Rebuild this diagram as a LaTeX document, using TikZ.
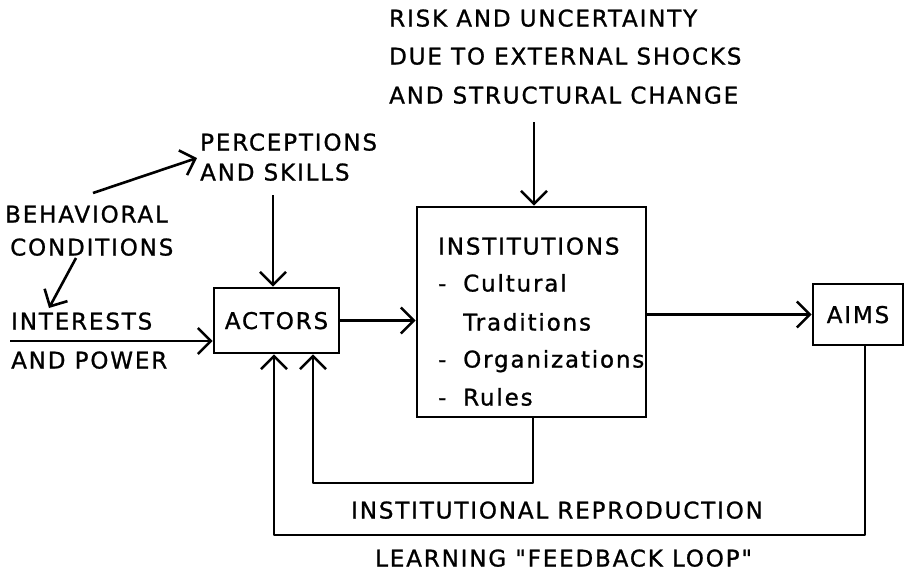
\documentclass[tikz,border=0pt]{standalone}
\usepackage{fontspec}
\usetikzlibrary{arrows.meta}
\newfontfamily\tw{DejaVu Sans}[LetterSpace=8,FakeBold=1]
\begin{document}
\begin{tikzpicture}[x=1pt,y=-1pt,
  lbl/.style={font=\fontsize{23}{27}\tw, inner sep=0pt, anchor=west, text height=17pt, text depth=0pt},
  box/.style={draw, line width=2.6pt, font=\fontsize{23}{27}\tw, inner sep=0pt, text height=17pt, text depth=0pt},
  arr/.style={line width=2.6pt, line join=round, -{Straight Barb[length=13pt,width=26pt,line width=2.6pt]}}]
\useasboundingbox (0,0) rectangle (905,571);
% top text
\node[lbl] (r1) at (389,18) {RISK AND UNCERTAINTY};
\node[lbl] (r2) at (389,56) {DUE TO EXTERNAL SHOCKS};
\node[lbl] (r3) at (389,95) {AND STRUCTURAL CHANGE};
% left texts
\node[lbl] (p1) at (200,142) {PERCEPTIONS};
\node[lbl] (p2) at (200,172) {AND SKILLS};
\node[lbl] (b1) at (5,214) {BEHAVIORAL};
\node[lbl] (b2) at (10,247) {CONDITIONS};
\node[lbl] (i1) at (11,321) {INTERESTS};
\node[lbl] (i2) at (11,360) {AND POWER};
% boxes
\node[box, minimum width=125pt, minimum height=65pt] (actors) at (276.5,320.5) {ACTORS};
\node[draw, line width=2.6pt, minimum width=229pt, minimum height=210pt, inner sep=0pt] (inst) at (531.5,312) {};
\node[box, minimum width=90pt, minimum height=61pt] (aims) at (858,314.5) {AIMS};
% institution contents
\node[lbl] (t1) at (438,246) {INSTITUTIONS};
\node[lbl] (t2) at (438,283) {\makebox[25pt][l]{-}Cultural};
\node[lbl] (t3) at (463,322) {Traditions};
\node[lbl] (t4) at (438,359) {\makebox[25pt][l]{-}Organizations};
\node[lbl] (t5) at (438,397) {\makebox[25pt][l]{-}Rules};
% bottom labels
\node[lbl] (rep) at (351,510) {INSTITUTIONAL REPRODUCTION};
\node[lbl] (lrn) at (375,558) {LEARNING "FEEDBACK LOOP"};
% coordinates
\coordinate (ra) at (534,122);
\coordinate (pa) at (273,195);
\coordinate (bs) at (93,193);
\coordinate (bt) at (197,158);
\coordinate (cs) at (76,258);
\coordinate (ct) at (49,308);
\coordinate (ia) at (10,341);
\coordinate (rr) at (533,483);
\coordinate (rl) at (313,483);
\coordinate (fr) at (865,535);
\coordinate (fl) at (274,535);
% connectors
\draw[arr] (ra) -- (ra |- inst.north);
\draw[arr] (pa) -- (pa |- actors.north);
\draw[arr] (bs) -- (bt);
\draw[arr] (cs) -- (ct);
\draw[arr] (ia) -- (ia -| actors.west);
\draw[arr] (actors.east) -- (actors.east -| inst.west);
\draw[arr] (inst.east |- aims.west) -- (aims.west);
\draw[arr] (rr |- inst.south) -- (rr) -- (rl) -- (rl |- actors.south);
\draw[arr] (fr |- aims.south) -- (fr) -- (fl) -- (fl |- actors.south);
\end{tikzpicture}
\end{document}
